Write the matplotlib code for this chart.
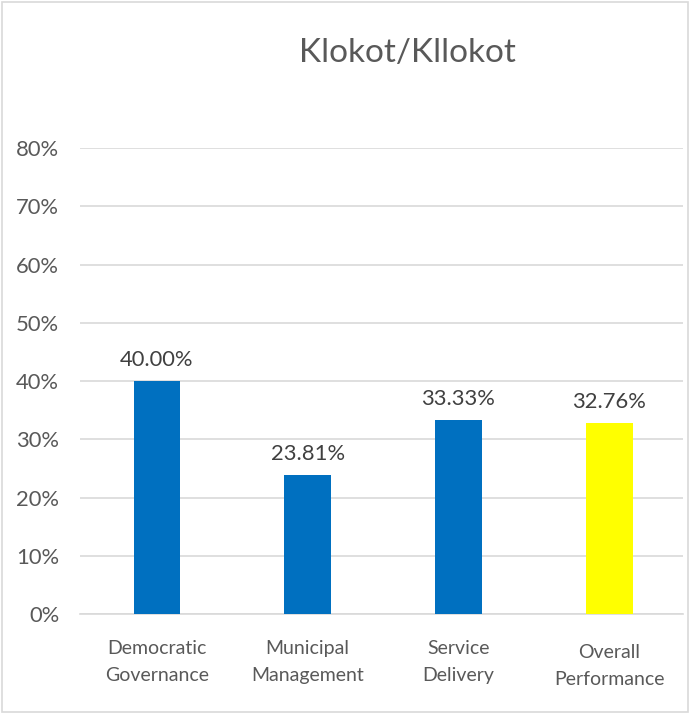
import matplotlib.pyplot as plt
from matplotlib.patches import Rectangle
from matplotlib.transforms import ScaledTranslation

categories = ['Democratic\nGovernance', 'Municipal\nManagement', 'Service\nDelivery', 'Overall\nPerformance']
values = [0.40, 0.2381, 0.3333, 0.3276]
labels = ['40.00%', '23.81%', '33.33%', '32.76%']
colors = ['#0070C0', '#0070C0', '#0070C0', '#FFFF00']
yticks = [0, 0.1, 0.2, 0.3, 0.4, 0.5, 0.6, 0.7, 0.8]

plt.rcParams['font.family'] = ['Lato', 'DejaVu Sans']

fig = plt.figure(figsize=(6.9, 7.14), dpi=100)
ax = fig.add_axes([0.116, 0.140, 0.874, 0.6527])

x = range(len(categories))
bars = ax.bar(x, values, width=0.31, color=colors, zorder=3)

for b, lab in zip(bars, labels):
    ax.annotate(lab, (b.get_x() + b.get_width() / 2, b.get_height()),
                xytext=(0, 8), textcoords='offset points',
                ha='center', va='bottom', fontsize=15.8, color='#404040')

ax.set_xlim(-0.51, 3.49)
ax.set_ylim(0, 0.8)
ax.set_yticks(yticks)
ax.set_yticklabels([f'{int(round(t * 100))}%' for t in yticks])
ax.set_xticks(list(x))
ax.set_xticklabels(categories, linespacing=1.7)

ax.tick_params(axis='y', length=0, pad=15, labelsize=15.8, labelcolor='#595959')
ax.tick_params(axis='x', length=0, pad=18.5, labelsize=14, labelcolor='#595959')
ax.grid(axis='y', color='#D9D9D9', linewidth=1.2, zorder=0)
for s in ['top', 'right', 'left']:
    ax.spines[s].set_visible(False)
ax.spines['bottom'].set_color('#D9D9D9')
ax.spines['bottom'].set_linewidth(1.2)

# last label sits a little lower
last = ax.get_xticklabels()[-1]
last.set_transform(last.get_transform() + ScaledTranslation(0, -3 / 72, fig.dpi_scale_trans))

fig.text(0.59, 0.926, 'Klokot/Kllokot', ha='center', va='center', fontsize=24, color='#595959')

fig.patches.append(Rectangle((0.003, 0.003), 0.994, 0.994, transform=fig.transFigure,
                             fill=False, edgecolor='#D9D9D9', linewidth=1.2))

fig.savefig('out.png', dpi=100)
